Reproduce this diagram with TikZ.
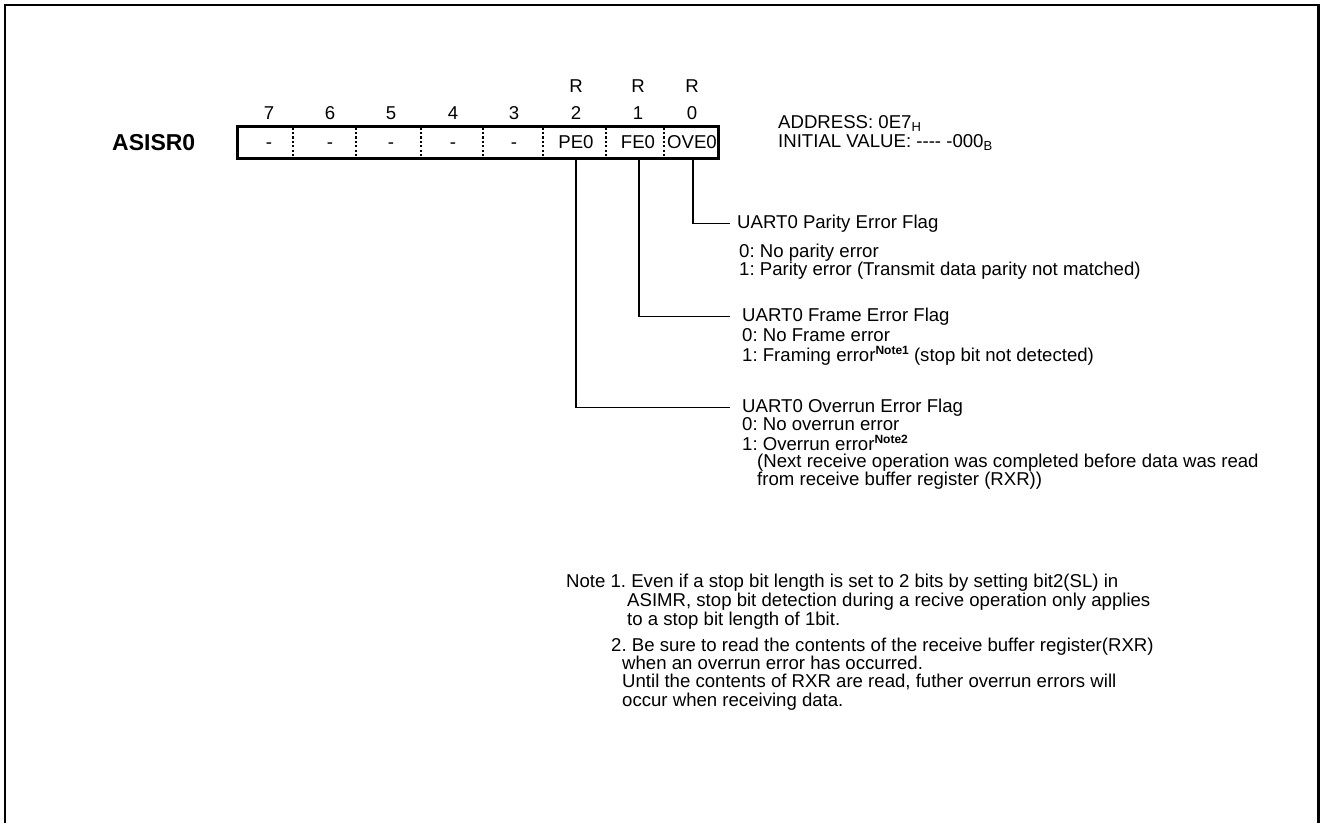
\documentclass[tikz,border=0pt]{standalone}
\usepackage{fontspec}
\setmainfont{Liberation Sans}
\newcommand\subtxt[1]{\raisebox{-0.35ex}{\fontsize{13}{13}\selectfont #1}}
\newcommand\notesup[1]{\raisebox{0.62ex}{\fontsize{12}{12}\selectfont\bfseries #1}}
\begin{document}
\frenchspacing
\begin{tikzpicture}[x=1pt,y=-1pt,
  txt/.style={anchor=base west, inner sep=0pt, font=\fontsize{18.6}{19}\selectfont},
  ctr/.style={anchor=base, inner sep=0pt, font=\fontsize{18.6}{19}\selectfont},
  conn/.style={line width=1.1pt},
  divider/.style={line width=1.6pt, dash pattern=on 2.2pt off 2.2pt},
]
\useasboundingbox (0,0) rectangle (1321,823);
\draw[line width=2.6pt] (5,823) -- (5,5) -- (1318.7,5) -- (1318.7,823);

\node[anchor=base west, inner sep=0pt, font=\bfseries\fontsize{23}{23}\selectfont] (name) at (112,150) {ASISR0};

\node[draw, line width=3pt, minimum width=481pt, minimum height=32pt, inner sep=0pt] (reg) at (477.5,142) {};
\foreach \x in {293,356,421,483,543,606,664}
  \draw[divider] (\x,127.5) -- (\x,156.5);

\foreach \x/\b/\t in {269/7/{-}, 330/6/{-}, 391/5/{-}, 453/4/{-}, 514/3/{-}, 576/2/PE0, 638/1/FE0, 692/0/OVE0}
{
  \node[ctr] (b\b) at (\x,119.5) {\b};
  \node[ctr] (c\b) at (\x,148.5) {\t};
}
\foreach \x/\b in {576/2, 638/1, 692/0}
  \node[ctr] (r\b) at (\x,92.5) {R};

\node[txt] (addr) at (778,128) {ADDRESS: 0E7\subtxt{H}};
\node[txt] (init) at (778,147) {INITIAL VALUE: \mbox{-}\mbox{-}\mbox{-}\mbox{-} -000\subtxt{B}};

% UART0 Parity Error Flag
\node[txt, inner xsep=7pt] (pt) at (730,228.5) {UART0 Parity Error Flag};
\node[txt] (p0) at (739,257) {0: No parity error};
\node[txt] (p1) at (739,275) {1: Parity error (Transmit data parity not matched)};
\draw[conn] ([xshift=1pt]c0.center |- reg.south) |- (pt.west);

% UART0 Frame Error Flag
\node[txt, inner xsep=12pt] (ft) at (730,321) {UART0 Frame Error Flag};
\node[txt] (f0) at (742,341.5) {0: No Frame error};
\node[txt] (f1) at (742,361) {1: Framing error\notesup{Note1} (stop bit not detected)};
\draw[conn] ([xshift=1pt]c1.center |- reg.south) |- (ft.west);

% UART0 Overrun Error Flag
\node[txt, inner xsep=12pt] (ot) at (730,412.5) {UART0 Overrun Error Flag};
\node[txt] (o0) at (742,430.5) {0: No overrun error};
\node[txt] (o1) at (742,450) {1: Overrun error\notesup{Note2}};
\node[txt] (o2) at (757,467.5) {(Next receive operation was completed before data was read};
\node[txt] (o3) at (757,485.5) {from receive buffer register (RXR))};
\draw[conn] (c2.center |- reg.south) |- (ot.west);

% Notes
\node[txt] (n1a) at (566,587) {Note 1. Even if a stop bit length is set to 2 bits by setting bit2(SL) in};
\node[txt] (n1b) at (627,606) {ASIMR, stop bit detection during a recive operation only applies};
\node[txt] (n1c) at (627,625) {to a stop bit length of 1bit.};
\node[txt] (n2a) at (611,651) {2. Be sure to read the contents of the receive buffer register(RXR)};
\node[txt] (n2b) at (622,669) {when an overrun error has occurred.};
\node[txt] (n2c) at (622,687) {Until the contents of RXR are read, futher overrun errors will};
\node[txt] (n2d) at (622,706) {occur when receiving data.};
\end{tikzpicture}
\end{document}
